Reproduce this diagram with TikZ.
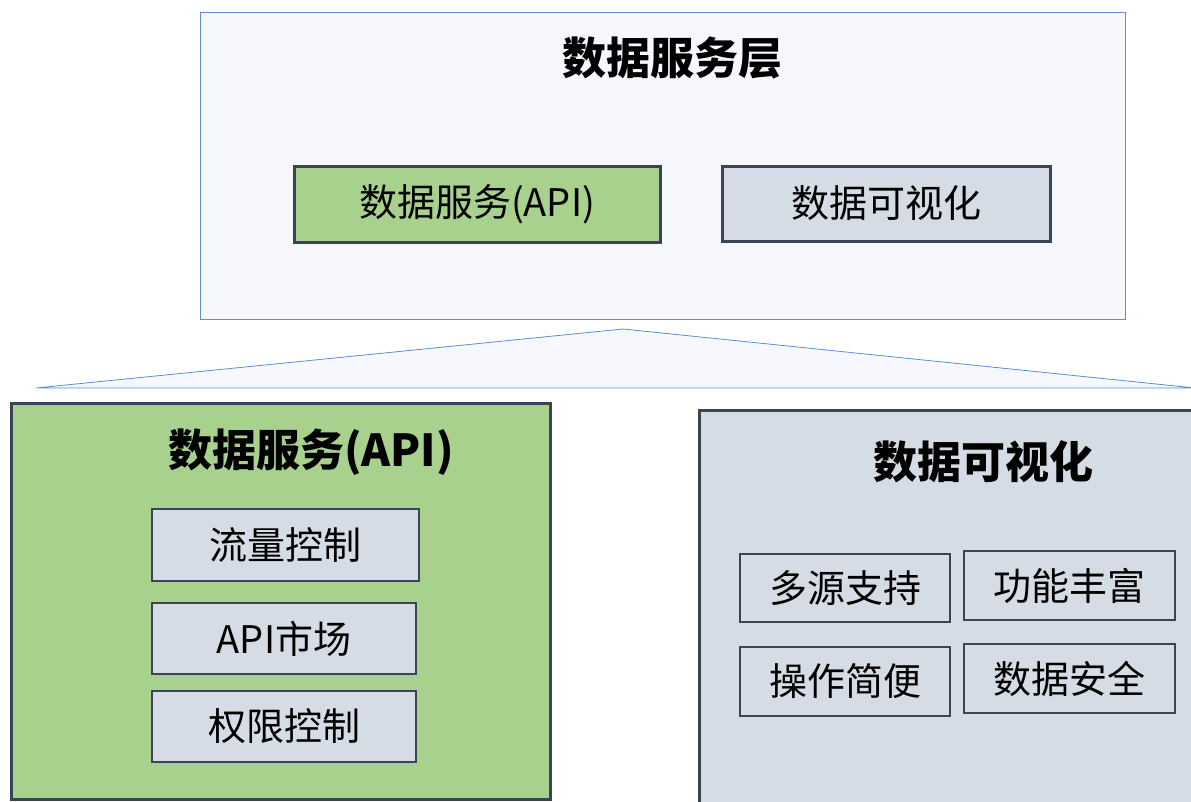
\documentclass[tikz,border=0pt]{standalone}
\usepackage{fontspec}
\setmainfont{Noto Sans CJK SC}
\usetikzlibrary{positioning}

\definecolor{layerfill}{HTML}{F7F8FE}
\definecolor{layerline}{HTML}{5B8ED6}
\definecolor{apigreen}{HTML}{A9D18E}
\definecolor{visgray}{HTML}{D6DCE5}
\definecolor{boxline}{HTML}{3B4453}

\begin{document}
\begin{tikzpicture}[x=1pt, y=-1pt]
	\tikzstyle{layer}=[draw=layerline, fill=layerfill, line width=0.8pt, inner sep=0pt]
	\tikzstyle{box}=[draw=boxline, line width=3pt, inner sep=0pt, text=black, font=\fontsize{38}{42}\selectfont]
	\tikzstyle{item}=[box, fill=visgray, line width=2pt]
	\tikzstyle{title}=[font=\fontsize{44}{48}\selectfont\bfseries]
	\useasboundingbox (0,0) rectangle (1191,801);
	% top layer
	\node[layer, minimum width=925, minimum height=307] (layer) at (662.5,165.5) {};
	\node[title] (layertitle) at (672,58) {数据服务层};
	\node[box, fill=apigreen, minimum width=366, minimum height=76] (api) at (477,204) {数据服务(API)};
	\node[box, fill=visgray, minimum width=328, minimum height=75] (vis) at (886,203.5) {数据可视化};
	% zoom shape
	\coordinate (apex) at (623,329);
	\coordinate (zl) at (36,388);
	\coordinate (zr) at (1195,388);
	\draw[layer] (apex) -- (zl) -- (zr) -- cycle;
	% api detail
	\node[box, fill=apigreen, minimum width=539, minimum height=396] (apibig) at (280.5,601) {};
	\node[title] (apititle) at (311,452) {数据服务(API)};
	\node[item, minimum width=267, minimum height=72] (flow) at (285.5,545) {流量控制};
	\node[item, minimum width=264, minimum height=71] (market) at (284,638.5) {API市场};
	\node[item, minimum width=264, minimum height=71] (auth) at (284,726.5) {权限控制};
	% vis detail
	\node[box, fill=visgray, minimum width=522, minimum height=420] (visbig) at (960,620) {};
	\node[title] (vistitle) at (983,462) {数据可视化};
	\node[item, minimum width=210, minimum height=68] (multi) at (845,588) {多源支持};
	\node[item, minimum width=211, minimum height=69] (rich) at (1069.5,585.5) {功能丰富};
	\node[item, minimum width=210, minimum height=69] (easy) at (845,681.5) {操作简便};
	\node[item, minimum width=211, minimum height=69] (safe) at (1069.5,678.5) {数据安全};
\end{tikzpicture}
\end{document}
